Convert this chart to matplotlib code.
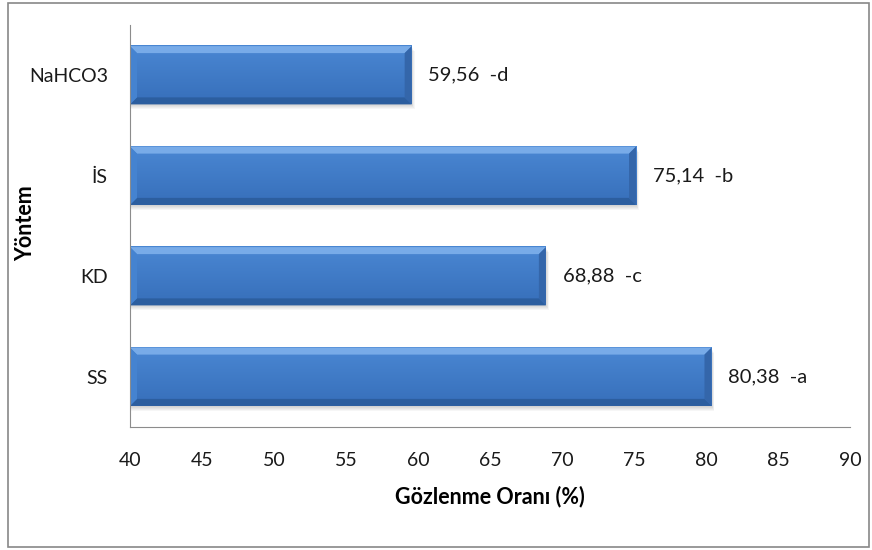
import numpy as np
import matplotlib.pyplot as plt
from matplotlib.patches import Polygon, Rectangle
import matplotlib.colors as mcolors

categories = ['SS', 'KD', 'İS', 'NaHCO3']
values = [80.38, 68.88, 75.14, 59.56]
letters = ['a', 'c', 'b', 'd']
xticks = [40, 45, 50, 55, 60, 65, 70, 75, 80, 85, 90]

plt.rcParams['font.family'] = ['Lato', 'DejaVu Sans']

fig = plt.figure(figsize=(8.72, 5.5), dpi=100)
ax = fig.add_axes([130/872, 1-427/550, 720/872, 402/550])

xmin, xmax = 40, 90
ax.set_xlim(xmin, xmax)
ax.set_ylim(-0.5, len(categories) - 0.5)

# pixel -> data scale for bevel sizes
px_x = (xmax - xmin) / 720
px_y = len(categories) / 402
h = 0.58
bev = 7

face_top = np.array(mcolors.to_rgb('#4a87d3'))
face_bot = np.array(mcolors.to_rgb('#376fba'))

for i, v in enumerate(values):
    y0, y1 = i - h/2, i + h/2
    # soft shadow
    for k in range(1, 6):
        ax.add_patch(Rectangle((xmin, y0 - k*px_y), v - xmin + k*px_x*0.6, h,
                               color='black', alpha=0.035, lw=0, zorder=1))
    # face gradient
    grad = np.linspace(0, 1, 64)[:, None]
    img = face_bot + (face_top - face_bot) * grad
    img = img[:, None, :].repeat(2, axis=1)
    ax.imshow(img, extent=(xmin, v, y0, y1), origin='lower', aspect='auto',
              interpolation='bilinear', zorder=2)
    bx, by = bev*px_x, bev*px_y
    # top bevel (light)
    ax.add_patch(Polygon([(xmin, y1), (v, y1), (v - bx, y1 - by), (xmin + bx, y1 - by)],
                         closed=True, color='#78abe8', lw=0, zorder=3))
    # bottom bevel (dark)
    ax.add_patch(Polygon([(xmin, y0), (v, y0), (v - bx, y0 + by), (xmin + bx, y0 + by)],
                         closed=True, color='#2c5e9f', lw=0, zorder=3))
    # right bevel
    ax.add_patch(Polygon([(v, y0), (v, y1), (v - bx, y1 - by), (v - bx, y0 + by)],
                         closed=True, color='#3466aa', lw=0, zorder=3))
    # left bevel
    ax.add_patch(Polygon([(xmin, y0), (xmin, y1), (xmin + bx, y1 - by), (xmin + bx, y0 + by)],
                         closed=True, color='#4583d0', lw=0, zorder=3))
    ax.annotate(f"{v:.2f}".replace('.', ',') + f"  -{letters[i]}",
                xy=(v, i), xytext=(12, 0), textcoords='offset points',
                va='center', ha='left', fontsize=14.5, color='#1a1a1a')

ax.set_yticks(range(len(categories)))
ax.set_yticklabels(categories, fontsize=14, color='#1a1a1a')
ax.set_xticks(xticks)
ax.set_xticklabels([str(t) for t in xticks], fontsize=14, color='#1a1a1a')
ax.tick_params(axis='both', length=0)
ax.tick_params(axis='y', pad=16)
ax.tick_params(axis='x', pad=18)

for s in ['top', 'right']:
    ax.spines[s].set_visible(False)
ax.spines['left'].set_color('#8c8c8c')
ax.spines['bottom'].set_color('#8c8c8c')
ax.spines['left'].set_zorder(5)

ax.set_xlabel('Gözlenme Oranı (%)', fontsize=15.5, fontweight='bold', labelpad=12)
fig.text(26/872, 1-223/550, 'Yöntem', rotation=90, fontsize=15.5, fontweight='bold',
         ha='center', va='center')

fig.add_artist(Rectangle((8/872, 3/550), 861/872, 544/550, transform=fig.transFigure,
                         fill=False, edgecolor='#888888', lw=1.2))

fig.savefig('out.png', dpi=100)
